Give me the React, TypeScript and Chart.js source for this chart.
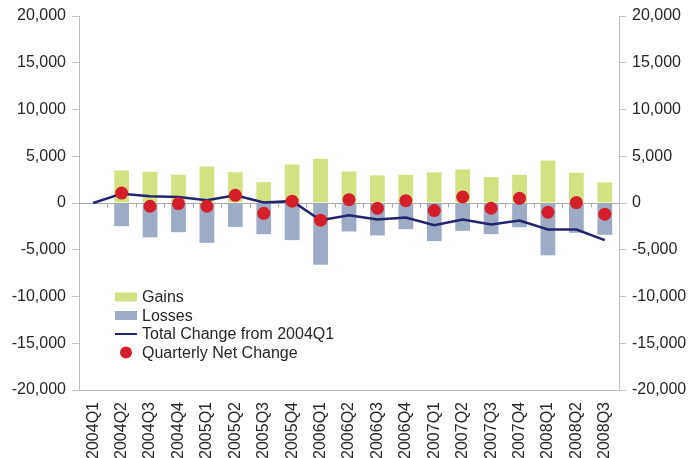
import { useEffect, useRef } from "react";
import { Chart, registerables } from "chart.js";

Chart.register(...registerables);

// Quarterly job flows, 2004Q1 – 2008Q3
const quarters = [
  "2004Q1", "2004Q2", "2004Q3", "2004Q4",
  "2005Q1", "2005Q2", "2005Q3", "2005Q4",
  "2006Q1", "2006Q2", "2006Q3", "2006Q4",
  "2007Q1", "2007Q2", "2007Q3", "2007Q4",
  "2008Q1", "2008Q2", "2008Q3",
];

const gains = [
  null, 3480, 3340, 3020, 3900, 3300, 2230, 4120, 4720, 3370,
  2950, 3020, 3270, 3590, 2770, 3020, 4540, 3230, 2200,
];

const losses = [
  null, -2480, -3680, -3120, -4260, -2550, -3330, -3970, -6600, -3050,
  -3470, -2800, -4080, -2980, -3330, -2590, -5600, -3190, -3400,
];

const totalChange = [
  0, 1000, 710, 640, 290, 820, 50, 200, -1840, -1300,
  -1770, -1550, -2370, -1770, -2300, -1870, -2830, -2830, -3970,
];

const netChange = [
  null, 1060, -350, -60, -350, 820, -1100, 200, -1840, 360,
  -560, 250, -810, 640, -560, 500, -990, 50, -1200,
];

const yTicks = { min: -20000, max: 20000, step: 5000 };

const FONT_FAMILY = '"Liberation Sans", Arial, Helvetica, sans-serif';
const TEXT = "#262626";
const AXIS = "#bdbdbd";
const GAINS_COLOR = "#d2e283";
const LOSSES_COLOR = "#9dacc4";
const TOTAL_COLOR = "#232370";
const NET_COLOR = "#d41e2a";

const fmt = (v: number) => Number(v).toLocaleString("en-US");

// Category axis drawn through zero, with small tick marks between quarters
const zeroAxisPlugin = {
  id: "zeroAxis",
  beforeDatasetsDraw(chart: any) {
    const { ctx, chartArea, scales } = chart;
    const y = Math.round(scales.y.getPixelForValue(0)) + 0.5;
    const xs = scales.x;
    ctx.save();
    ctx.strokeStyle = "#a8a8a8";
    ctx.lineWidth = 1;
    ctx.beginPath();
    ctx.moveTo(chartArea.left, y);
    ctx.lineTo(chartArea.right, y);
    for (let i = 1; i < quarters.length; i++) {
      const px = Math.round((xs.getPixelForTick(i - 1) + xs.getPixelForTick(i)) / 2) + 0.5;
      ctx.moveTo(px, y);
      ctx.lineTo(px, y + 4);
    }
    ctx.stroke();
    ctx.restore();
  },
};

// Legend placed inside the plot, lower left
const insideLegendPlugin = {
  id: "insideLegend",
  afterDraw(chart: any) {
    const { ctx, chartArea } = chart;
    const ds = chart.data.datasets;
    const x0 = chartArea.left + 36;
    const sw = 22;
    const tx = x0 + 27;
    const rowH = 18.5;
    const y0 = chartArea.bottom - 93;
    ctx.save();
    ctx.font = `16px ${FONT_FAMILY}`;
    ctx.textBaseline = "middle";
    ctx.textAlign = "left";
    const items = [ds[0], ds[1], ds[2], ds[3]];
    items.forEach((d: any, i: number) => {
      const cy = y0 + i * rowH;
      if (i < 2) {
        ctx.fillStyle = d.backgroundColor;
        ctx.fillRect(x0, cy - 4.5, sw, 9);
      } else if (i === 2) {
        ctx.strokeStyle = d.borderColor;
        ctx.lineWidth = 2;
        ctx.beginPath();
        ctx.moveTo(x0, cy);
        ctx.lineTo(x0 + sw, cy);
        ctx.stroke();
      } else {
        ctx.fillStyle = d.pointBackgroundColor;
        ctx.beginPath();
        ctx.arc(x0 + sw / 2, cy, 6, 0, Math.PI * 2);
        ctx.fill();
      }
      ctx.fillStyle = TEXT;
      ctx.fillText(d.label, tx, cy + 1);
    });
    ctx.restore();
  },
};

export default function App() {
  const canvasRef = useRef<HTMLCanvasElement | null>(null);

  useEffect(() => {
    if (!canvasRef.current) return;
    const tickFont = { family: FONT_FAMILY, size: 16 };
    const yAxis = (position: "left" | "right", width: number) => ({
      position,
      min: yTicks.min,
      max: yTicks.max,
      ticks: {
        stepSize: yTicks.step,
        padding: 6,
        color: TEXT,
        font: tickFont,
        callback: (v: any) => fmt(v),
      },
      grid: {
        drawOnChartArea: false,
        drawTicks: true,
        tickLength: 7,
        color: "#c4c4c4",
      },
      border: { display: true, color: AXIS },
      afterFit: (s: any) => {
        s.width = width;
      },
    });

    const chart = new Chart(canvasRef.current, {
      type: "bar",
      data: {
        labels: quarters,
        datasets: [
          {
            type: "bar",
            label: "Gains",
            data: gains,
            backgroundColor: GAINS_COLOR,
            borderWidth: 0,
            categoryPercentage: 1,
            barPercentage: 0.52,
            order: 3,
          },
          {
            type: "bar",
            label: "Losses",
            data: losses,
            backgroundColor: LOSSES_COLOR,
            borderWidth: 0,
            categoryPercentage: 1,
            barPercentage: 0.52,
            order: 3,
          },
          {
            type: "line",
            label: "Total Change from 2004Q1",
            data: totalChange,
            borderColor: TOTAL_COLOR,
            backgroundColor: TOTAL_COLOR,
            borderWidth: 2.5,
            pointRadius: 0,
            tension: 0,
            fill: false,
            order: 1,
          },
          {
            type: "line",
            label: "Quarterly Net Change",
            data: netChange,
            showLine: false,
            pointRadius: 6.5,
            pointBackgroundColor: NET_COLOR,
            pointBorderWidth: 0,
            borderColor: NET_COLOR,
            order: 0,
          },
        ],
      } as any,
      options: {
        responsive: false,
        animation: false,
        layout: { padding: { top: 16, left: 0, right: 0, bottom: 0 } },
        plugins: {
          legend: { display: false },
          tooltip: { enabled: false },
        },
        scales: {
          x: {
            stacked: true,
            offset: true,
            grid: { display: false, drawTicks: false, tickLength: 0 },
            border: { display: true, color: AXIS },
            ticks: {
              autoSkip: false,
              maxRotation: 90,
              minRotation: 90,
              padding: 12,
              color: TEXT,
              font: tickFont,
            },
            afterFit: (s: any) => {
              s.height = 68;
            },
          },
          y: yAxis("left", 79),
          y2: yAxis("right", 71),
        },
      } as any,
      plugins: [zeroAxisPlugin, insideLegendPlugin],
    });

    return () => chart.destroy();
  }, []);

  return (
    <div
      style={{
        position: "fixed",
        left: 0,
        top: 0,
        width: 690,
        height: 458,
        background: "#ffffff",
      }}
    >
      <canvas ref={canvasRef} width={690} height={458} />
    </div>
  );
}
